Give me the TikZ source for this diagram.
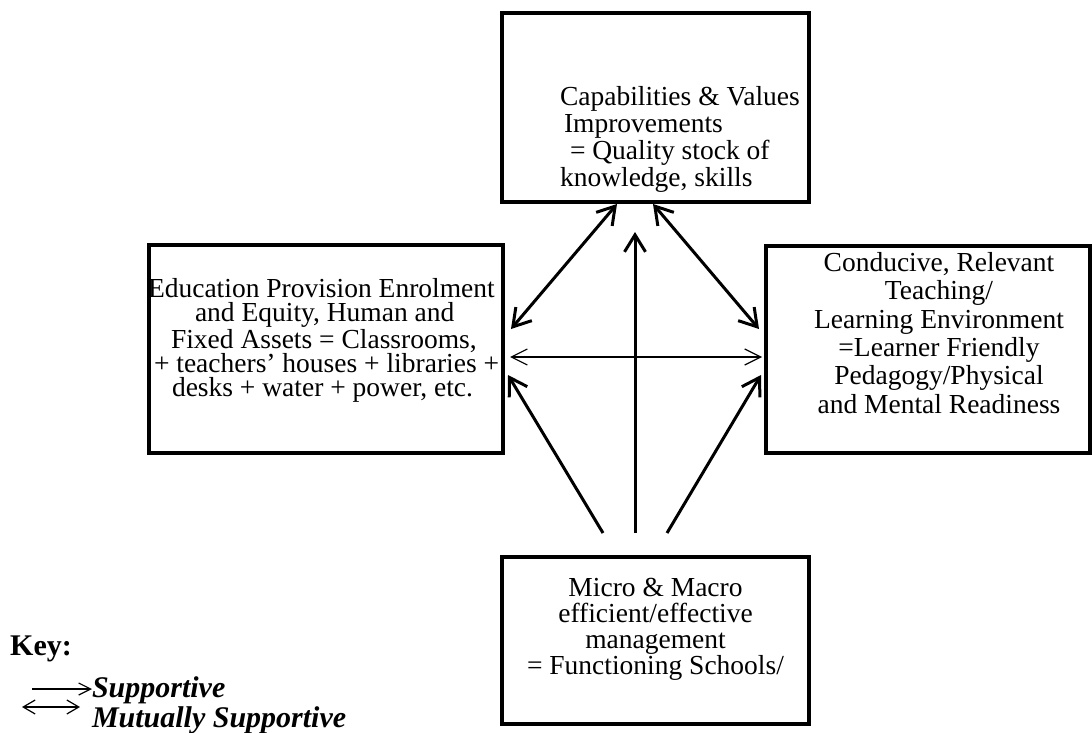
\documentclass[tikz,border=0pt]{standalone}
\usepackage{fontspec}
\setmainfont{Liberation Serif}
\usetikzlibrary{arrows.meta}
\begin{document}
\begin{tikzpicture}[x=1pt,y=-1pt,
  box/.style={draw, line width=4pt, inner sep=0pt, outer sep=0pt},
  txt/.style={inner sep=0pt, outer sep=0pt, font=\fontsize{27.5}{28.3}\selectfont},
  keytxt/.style={inner sep=0pt, outer sep=0pt, font=\fontsize{30}{32}\selectfont\bfseries\itshape, anchor=base west},
  thick arrow/.style={line width=3pt, -{Straight Barb[length=17pt,width=21pt]}},
  thick double/.style={line width=3pt, {Straight Barb[length=17pt,width=21pt]}-{Straight Barb[length=17pt,width=21pt]}},
  thin double/.style={line width=1.2pt, {Straight Barb[length=16pt,width=16pt]}-{Straight Barb[length=16pt,width=16pt]}},
  key arrow/.style={line width=1.2pt, -{Straight Barb[length=12pt,width=12pt]}},
  key double/.style={line width=1.2pt, {Straight Barb[length=12pt,width=14pt]}-{Straight Barb[length=12pt,width=14pt]}}]
\useasboundingbox (0,0) rectangle (1092,733);
% boxes
\node[box, minimum width=307pt, minimum height=189pt] (topbox) at (655.5,107.5) {};
\node[box, minimum width=354pt, minimum height=208pt] (leftbox) at (326,349) {};
\node[box, minimum width=324pt, minimum height=207pt] (rightbox) at (928,349.5) {};
\node[box, minimum width=307pt, minimum height=167pt] (botbox) at (655.5,640.5) {};
% texts (anchor base = baseline of the last line)
\node[txt, anchor=base west, align=left, font=\fontsize{27.5}{27}\selectfont] (toptext) at (560,186) {Capabilities \& Values\\\hspace{4pt}Improvements\\\hspace{10pt}= Quality stock of\\knowledge, skills};
\node[txt, anchor=base west, align=left, font=\fontsize{27.5}{24}\selectfont] (lefttext) at (148,396) {Education Provision Enrolment\\\hspace{47pt}and Equity, Human and\\\hspace{23pt}Fixed Assets = Classrooms,\\\hspace{6pt}+ teachers' houses + libraries +\\\hspace{24pt}desks + water + power, etc.};
\node[txt, anchor=base, align=center] (righttext) at (939,413) {Conducive, Relevant\\Teaching/\\Learning Environment\\=Learner Friendly\\Pedagogy/Physical\\and Mental Readiness};
\node[txt, anchor=base, align=center, font=\fontsize{27.5}{26}\selectfont] (bottext) at (655.5,674) {Micro \& Macro\\efficient/effective\\management\\= Functioning Schools/};
% connector end points
\coordinate (tl) at (617,204);
\coordinate (tr) at (653,204);
\coordinate (lt) at (511,329);
\coordinate (rt) at (759,329);
\coordinate (hl) at (510,357);
\coordinate (hr) at (762,357);
\coordinate (ctip) at (635,232);
\coordinate (ctail) at (635,533);
\coordinate (ltail) at (603,533);
\coordinate (ltip) at (508,375);
\coordinate (rtail) at (667,533);
\coordinate (rtip) at (761,375);
% connectors
\draw[thick double] (lt) -- (tl);
\draw[thick double] (rt) -- (tr);
\draw[thin double] (hl) -- (hr);
\draw[thick arrow] (ctail) -- (ctip);
\draw[thick arrow] (ltail) -- (ltip);
\draw[thick arrow] (rtail) -- (rtip);
% key
\node[inner sep=0pt, anchor=base west, font=\fontsize{30}{32}\selectfont\bfseries] (keyt) at (10,655) {Key:};
\node[keytxt] (sup) at (92,697) {Supportive};
\node[keytxt] (mut) at (92,727) {Mutually Supportive};
\coordinate (sa) at (32,689);
\coordinate (sb) at (92,689);
\coordinate (ma) at (22,707);
\coordinate (mb) at (80,707);
\draw[key arrow] (sa) -- (sb);
\draw[key double] (ma) -- (mb);
\end{tikzpicture}
\end{document}
